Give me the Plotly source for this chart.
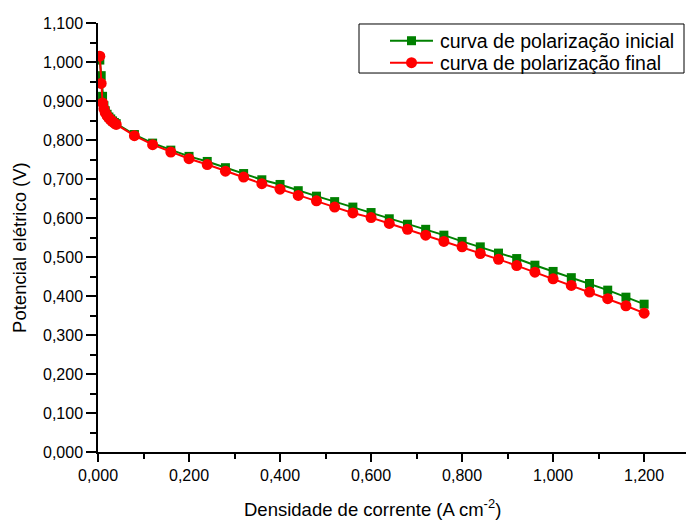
import plotly.graph_objects as go

# Current density (A cm^-2)
j_initial = [0.004, 0.007, 0.010, 0.013, 0.016, 0.020, 0.024, 0.028, 0.032, 0.036, 0.040,
             0.08, 0.12, 0.16, 0.20, 0.24, 0.28, 0.32, 0.36, 0.40, 0.44, 0.48, 0.52, 0.56, 0.60,
             0.64, 0.68, 0.72, 0.76, 0.80, 0.84, 0.88, 0.92, 0.96, 1.00, 1.04, 1.08, 1.12, 1.16, 1.20]
v_initial = [1.005, 0.965, 0.912, 0.888, 0.875, 0.866, 0.859, 0.854, 0.849, 0.845, 0.842,
             0.814, 0.792, 0.774, 0.758, 0.745, 0.729, 0.714, 0.698, 0.686, 0.670, 0.656, 0.642, 0.628, 0.614,
             0.598, 0.584, 0.571, 0.556, 0.540, 0.526, 0.510, 0.496, 0.479, 0.463, 0.447, 0.432, 0.415, 0.397, 0.379]

j_final = [0.004, 0.007, 0.010, 0.013, 0.016, 0.020, 0.024, 0.028, 0.032, 0.036, 0.040,
           0.08, 0.12, 0.16, 0.20, 0.24, 0.28, 0.32, 0.36, 0.40, 0.44, 0.48, 0.52, 0.56, 0.60,
           0.64, 0.68, 0.72, 0.76, 0.80, 0.84, 0.88, 0.92, 0.96, 1.00, 1.04, 1.08, 1.12, 1.16, 1.20]
v_final = [1.015, 0.945, 0.895, 0.880, 0.870, 0.862, 0.856, 0.851, 0.847, 0.843, 0.840,
           0.811, 0.788, 0.769, 0.752, 0.737, 0.720, 0.705, 0.688, 0.674, 0.658, 0.644, 0.628, 0.613, 0.601,
           0.586, 0.571, 0.556, 0.540, 0.526, 0.509, 0.494, 0.478, 0.461, 0.444, 0.427, 0.410, 0.393, 0.375, 0.356]

name_initial = "curva de polarização inicial"
name_final = "curva de polarização final"
x_title = "Densidade de corrente (A cm<sup>-2</sup>)"
y_title = "Potencial elétrico (V)"

FONT = "Liberation Sans, Arial, sans-serif"
GREEN = "#008000"
RED = "#FF0000"

fig = go.Figure()
fig.add_trace(go.Scatter(x=j_initial, y=v_initial, mode="lines+markers", name=name_initial,
                         line=dict(color=GREEN, width=2),
                         marker=dict(symbol="square", size=9, color=GREEN)))
fig.add_trace(go.Scatter(x=j_final, y=v_final, mode="lines+markers", name=name_final,
                         line=dict(color=RED, width=2),
                         marker=dict(symbol="circle", size=11, color=RED)))

axis_common = dict(showline=True, linecolor="black", linewidth=1.5, showgrid=False, zeroline=False,
                   ticks="outside", tickwidth=1.5, tickcolor="black",
                   tickformat=".3f", tickfont=dict(family=FONT, size=16, color="black"))

# Boxed legend drawn in paper coordinates (compact rows like the reference)
box = dict(x0=0.4439, x1=0.9966, y0=0.8834, y1=0.9977)
rows = [(0.9587, name_initial, GREEN, "rect", 4.5), (0.9075, name_final, RED, "circle", 5.5)]
line_x0, line_x1, mark_x, text_x = 0.4966, 0.5697, 0.5332, 0.5782

shapes = [dict(type="rect", xref="paper", yref="paper", **box,
               line=dict(color="black", width=1), fillcolor="white", layer="above")]
annotations = [
    dict(text=x_title, xref="paper", yref="paper", x=0.466, y=-0.131,
         xanchor="center", yanchor="middle", showarrow=False,
         font=dict(family=FONT, size=18.5, color="black")),
    dict(text=y_title, xref="paper", yref="paper", x=-0.1327, y=0.478, textangle=-90,
         xanchor="center", yanchor="middle", showarrow=False,
         font=dict(family=FONT, size=18.5, color="black")),
]
for yy, label, col, sym, half in rows:
    shapes.append(dict(type="line", xref="paper", yref="paper", x0=line_x0, x1=line_x1, y0=yy, y1=yy,
                       line=dict(color=col, width=2), layer="above"))
    shapes.append(dict(type=sym, xref="paper", yref="paper", xsizemode="pixel", ysizemode="pixel",
                       xanchor=mark_x, yanchor=yy, x0=-half, x1=half, y0=-half, y1=half,
                       fillcolor=col, line=dict(color=col, width=0), layer="above"))
    annotations.append(dict(text=label, xref="paper", yref="paper", x=text_x, y=yy,
                            xanchor="left", yanchor="middle", showarrow=False,
                            font=dict(family=FONT, size=19.5, color="black")))

fig.update_layout(
    width=687, height=522,
    margin=dict(l=98, r=1, t=23, b=70),
    plot_bgcolor="white", paper_bgcolor="white",
    separators=",.",
    font=dict(family=FONT, size=16, color="black"),
    xaxis=dict(range=[0, 1.292], tick0=0, dtick=0.2, ticklen=8,
               minor=dict(dtick=0.1, ticks="outside", ticklen=5, tickwidth=1.5, tickcolor="black"),
               **axis_common),
    yaxis=dict(range=[0, 1.1], tick0=0, dtick=0.1, ticklen=10,
               minor=dict(dtick=0.05, ticks="outside", ticklen=6, tickwidth=1.5, tickcolor="black"),
               **axis_common),
    showlegend=False,
    shapes=shapes,
    annotations=annotations,
)

fig.write_html("out.html")
